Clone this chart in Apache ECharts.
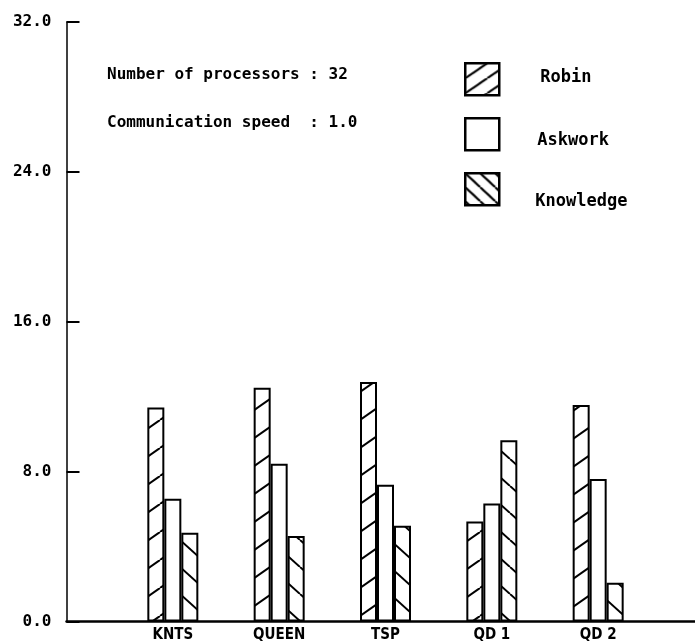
<!DOCTYPE html>
<html>
<head>
<meta charset="utf-8">
<script src="https://cdn.jsdelivr.net/npm/echarts@6/dist/echarts.min.js"></script>
<style>
html,body{margin:0;padding:0;background:#fff;}
#chart{width:695px;height:642px;}
</style>
</head>
<body>
<div id="chart"></div>
<script>
// ---- data ----
const categories = ['KNTS', 'QUEEN', 'TSP', 'QD 1', 'QD 2'];
const robin = [11.42, 12.48, 12.78, 5.34, 11.56];
const askwork = [6.55, 8.42, 7.30, 6.30, 7.60];
const knowledge = [4.74, 4.56, 5.11, 9.67, 2.07];
const yTicks = [0, 8, 16, 24, 32];
const notes = ['Number of processors : 32', 'Communication speed  : 1.0'];

function hatch(W, H, rising, lw) {
  const c = document.createElement('canvas');
  c.width = W; c.height = H;
  const g = c.getContext('2d');
  g.fillStyle = '#fff'; g.fillRect(0, 0, W, H);
  g.strokeStyle = '#000'; g.lineWidth = lw || 2;
  for (let k = -1; k <= 1; k++) {
    g.beginPath();
    if (rising) { g.moveTo(k * W, H); g.lineTo(k * W + W, 0); }
    else { g.moveTo(k * W, 0); g.lineTo(k * W + W, H); }
    g.stroke();
  }
  return { image: c, repeat: 'repeat' };
}
const robinFill = hatch(40, 28, true);
const knowFill = hatch(30, 27, false);
const robinLegendFill = hatch(22, 15, true, 2.2);
const knowLegendFill = hatch(15, 14, false, 2.2);

const axisCats = [''].concat(categories, ['']);
const pad = arr => ['-'].concat(arr, ['-']);

const chart = echarts.init(document.getElementById('chart'), null, { renderer: 'canvas' });
const mono = '"DejaVu Sans Mono", monospace';

function barSeries(name, data, fill) {
  return {
    name: name, type: 'bar', data: pad(data),
    barWidth: 17, barGap: '0%',
    itemStyle: { color: fill, borderColor: '#000', borderWidth: 2 },
    emphasis: { disabled: true }, animation: false
  };
}
function legendFor(name, fill, top, padLeft, shift) {
  return {
    data: [{ name: name, itemStyle: { color: fill } }],
    left: 464, top: top, orient: 'vertical', padding: 0,
    itemWidth: 34, itemHeight: 32, icon: 'rect', selectedMode: false,
    itemStyle: { borderColor: '#000', borderWidth: 2.5 },
    formatter: '{t|{name}}',
    textStyle: {
      rich: { t: { fontFamily: mono, fontSize: 17, fontWeight: 'bold', color: '#000',
        padding: shift >= 0 ? [2 * shift, 0, 0, padLeft] : [0, 0, -2 * shift, padLeft] } }
    }
  };
}

chart.setOption({
  animation: false,
  backgroundColor: '#fff',
  grid: { left: 66.5, top: 22, width: 638, bottom: 20.5, containLabel: false, outerBoundsMode: 'none' },
  xAxis: {
    type: 'category', data: axisCats, boundaryGap: false,
    axisLine: { lineStyle: { color: '#000', width: 2.5 } },
    axisTick: { show: false },
    axisLabel: { interval: 0, margin: 6, color: '#000', fontWeight: 'bold', fontSize: 15,
      fontFamily: '"DejaVu Sans Condensed", "Liberation Sans Narrow", sans-serif' },
    splitLine: { show: false }
  },
  yAxis: {
    type: 'value', min: yTicks[0], max: yTicks[yTicks.length - 1], interval: 8,
    axisLine: { show: true, lineStyle: { color: '#000', width: 1.5 } },
    axisTick: { show: true, inside: true, length: 13, lineStyle: { color: '#000', width: 2 } },
    axisLabel: { margin: 15, color: '#000', fontWeight: 'bold', fontSize: 16, fontFamily: mono,
      formatter: v => v.toFixed(1) },
    splitLine: { show: false }
  },
  legend: [
    legendFor('Robin', robinLegendFill, 62, 36, -2),
    legendFor('Askwork', '#fff', 117, 33, 6),
    legendFor('Knowledge', knowLegendFill, 172, 31, 12)
  ],
  graphic: [
    { type: 'text', left: 107, top: 67, style: { text: notes[0], font: 'bold 16px ' + mono, fill: '#000' } },
    { type: 'text', left: 107, top: 115, style: { text: notes[1], font: 'bold 16px ' + mono, fill: '#000' } }
  ],
  series: [
    barSeries('Robin', robin, robinFill),
    barSeries('Askwork', askwork, '#fff'),
    barSeries('Knowledge', knowledge, knowFill)
  ]
});
</script>
</body>
</html>
